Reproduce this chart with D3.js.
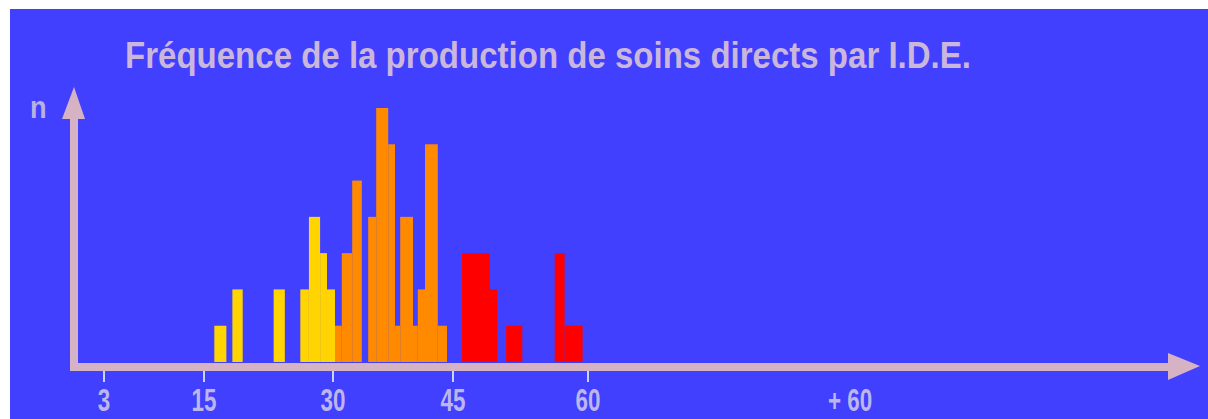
<!DOCTYPE html>
<html>
<head>
<meta charset="utf-8">
<script src="https://cdn.jsdelivr.net/npm/d3@7"></script>
<style>
  html, body { margin: 0; padding: 0; background: #ffffff; overflow: hidden; }
  svg { display: block; }
</style>
</head>
<body>
<div id="chart"></div>
<script>
// Histogram bins: [start (min), end (min), n]
const shortBins = [[16.2, 17.6, 1], [18.3, 19.5, 2], [23.1, 24.4, 2], [26.2, 27.2, 2],
    [27.2, 28.5, 4], [28.5, 29.3, 3], [29.3, 30.25, 2]];
const midBins = [[30.25, 31.1, 1], [31.1, 32.4, 3], [32.4, 33.6, 5], [34.4, 35.4, 4],
    [35.4, 36.9, 7], [36.9, 37.75, 6], [37.75, 38.4, 1], [38.4, 40.0, 4], [40.0, 40.6, 1],
    [40.6, 41.5, 2], [41.5, 43.1, 6], [43.1, 44.25, 1]];
const longBins = [[46.0, 49.1, 3], [49.1, 49.9, 2], [50.9, 52.7, 1], [56.3, 57.4, 3], [57.4, 59.4, 1]];

const tickValues = [3, 15, 30, 45, 60];
const tickLabels = ['3', '15', '30', '45', '60'];
const overLabel = '+ 60';
const title = 'Fréquence de la production de soins directs par I.D.E.';
const yLabel = 'n';

const width = 1208, height = 419;
const axisColor = '#d6b3c4';
const narrowFont = '"Liberation Sans Narrow", "Arial Narrow", "Liberation Sans", sans-serif';

const svg = d3.select('#chart').append('svg')
    .attr('width', width)
    .attr('height', height);

// Blue panel (white strip at top and left like the original slide)
svg.append('rect')
    .attr('x', 10).attr('y', 9)
    .attr('width', width - 10).attr('height', height - 9)
    .attr('fill', '#4040fe');

// Scales (hand-drawn axis, slightly uneven spacing between ticks)
const x = d3.scaleLinear()
    .domain(tickValues)
    .range([104, 204, 333, 453, 588]);
const y = d3.scaleLinear()
    .domain([0, 7])
    .range([362, 108]);

// Title
svg.append('text')
    .attr('x', 125).attr('y', 68)
    .attr('textLength', 846)
    .attr('lengthAdjust', 'spacingAndGlyphs')
    .attr('font-family', narrowFont)
    .attr('font-weight', 'bold')
    .attr('font-size', 36)
    .attr('fill', '#cbb6dc')
    .text(title);

// Bars
const groups = [
    { bins: shortBins, color: '#ffd400' },
    { bins: midBins, color: '#ff8a00' },
    { bins: longBins, color: '#ff0000' }
];
groups.forEach(g => {
    svg.append('g').selectAll('rect')
        .data(g.bins)
        .join('rect')
        .attr('x', d => x(d[0]))
        .attr('width', d => x(d[1]) - x(d[0]))
        .attr('y', d => y(d[2]))
        .attr('height', d => y(0) - y(d[2]))
        .attr('fill', g.color);
});

// Tick marks and labels
const ticks = svg.append('g');
ticks.selectAll('line')
    .data(tickValues)
    .join('line')
    .attr('x1', d => x(d)).attr('x2', d => x(d))
    .attr('y1', 366).attr('y2', 382)
    .attr('stroke', '#c6d4f6')
    .attr('stroke-width', 2);

const labelPos = tickValues.map((d, i) => ({ x: x(d), text: tickLabels[i] }));
labelPos.push({ x: 850, text: overLabel });
ticks.selectAll('text')
    .data(labelPos)
    .join('text')
    .attr('transform', d => `translate(${d.x},411) scale(0.8,1.1)`)
    .attr('text-anchor', 'middle')
    .attr('font-family', narrowFont)
    .attr('font-weight', 'bold')
    .attr('font-size', 28)
    .attr('fill', '#bcb6ea')
    .text(d => d.text);

// Axes with arrow heads
const axes = svg.append('g');
axes.append('line')
    .attr('x1', 74).attr('x2', 74)
    .attr('y1', 112).attr('y2', 371)
    .attr('stroke', axisColor).attr('stroke-width', 8);
axes.append('path')
    .attr('d', 'M74,87 L85,119 L62,119 Z')
    .attr('fill', axisColor);
axes.append('line')
    .attr('x1', 70).attr('x2', 1172)
    .attr('y1', 367).attr('y2', 367)
    .attr('stroke', axisColor).attr('stroke-width', 8);
axes.append('path')
    .attr('d', 'M1200,366 L1168,353 L1168,380 Z')
    .attr('fill', axisColor);

// Axis label
svg.append('text')
    .attr('transform', 'translate(30,118) scale(0.85,1)')
    .attr('font-family', '"Liberation Sans", Arial, sans-serif')
    .attr('font-weight', 'bold')
    .attr('font-size', 32)
    .attr('fill', '#b9b0e4')
    .text(yLabel);
</script>
</body>
</html>
